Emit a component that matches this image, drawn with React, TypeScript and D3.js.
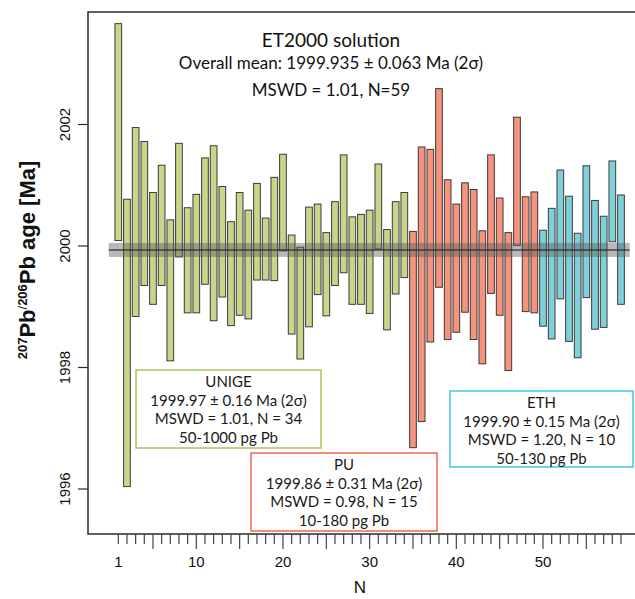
import React from "react";
import * as d3 from "d3";

// 2-sigma error bars (lower / upper ends, Ma) for each analysis N = 1..59
const lower = [
  2000.09, 1996.04, 1998.84, 1999.35, 1999.04, 1999.35, 1998.11, 1999.82, 1998.9, 1998.9,
  1999.37, 1998.77, 1999.16, 1998.69, 1998.86, 1998.8, 1999.44, 1999.44, 1999.43, 1999.92,
  1998.55, 1998.14, 1998.67, 1999.2, 1998.85, 1999.35, 1999.56, 1999.04, 1999.04, 1998.89,
  1999.95, 1998.62, 1999.21, 1999.48,
  1996.68, 1997.11, 1998.42, 1999.32, 1998.46, 1998.58, 1998.91, 1998.46, 1998.06, 1999.22,
  1998.86, 1997.95, 2000.01, 1998.92, 1998.9,
  1998.68, 1998.47, 1999.13, 1998.43, 1998.16, 1999.15, 1998.63, 1998.66, 2000.07, 1999.04,
];
const upper = [
  2003.66, 2000.77, 2001.95, 2001.72, 2000.88, 2001.33, 2000.43, 2001.69, 2000.63, 2000.85,
  2001.45, 2001.65, 2000.98, 2000.4, 2000.88, 2000.59, 2001.03, 2000.46, 2001.13, 2001.51,
  2000.18, 1999.98, 2000.64, 2000.69, 2000.22, 2000.73, 2001.5, 2000.48, 2000.52, 2000.59,
  2001.35, 2000.27, 2000.73, 2000.88,
  2000.24, 2001.63, 2001.59, 2002.59, 2001.09, 2000.69, 2001.04, 2000.93, 2000.25, 2001.5,
  2000.79, 2000.22, 2002.12, 2000.81, 2000.89,
  2000.26, 2000.62, 2001.25, 2000.82, 2000.21, 2001.32, 2000.75, 2000.49, 2001.4, 2000.84,
];

// labs, in order along N
const labs = ["UNIGE", "PU", "ETH"];
const labSizes = [34, 15, 10];
const labFill = ["#c9d58b", "#f5937c", "#80d0da"];
const labStroke = ["#a9c45c", "#ee6a51", "#3cc5ee"];
const labLines = [
  ["UNIGE", "1999.97 ± 0.16 Ma (2σ)", "MSWD = 1.01, N = 34", "50-1000 pg Pb"],
  ["PU", "1999.86 ± 0.31 Ma (2σ)", "MSWD = 0.98, N = 15", "10-180 pg Pb"],
  ["ETH", "1999.90 ± 0.15 Ma (2σ)", "MSWD = 1.20, N = 10", "50-130 pg Pb"],
];

const overallMean = 1999.935;
const bandHalf = 0.115;
const yTicks = [1996, 1998, 2000, 2002];
const xLabels = [1, 10, 20, 30, 40, 50];
const titleLines = ["ET2000 solution", "Overall mean: 1999.935 ± 0.063 Ma (2σ)", "MSWD = 1.01, N=59"];

const W = 635;
const H = 599;
const frame = { left: 88, top: 12, bottom: 534, right: 635 };

// annotation boxes [x0, y0, x1, y1]
const boxes = [
  [136, 370, 321, 448],
  [251, 453, 437, 531],
  [450, 391, 633, 467],
];

const sans = "'Lato', 'Open Sans', sans-serif";
const arial = "'Liberation Sans', Arial, sans-serif";

export default function App() {
  const x = d3.scaleLinear().domain([1, 59]).range([118.3, 621]);
  const y = d3.scaleLinear().domain([1996, 2002]).range([489, 124.5]);
  const bw = 6.7;

  const labOf: number[] = [];
  labSizes.forEach((n, g) => {
    for (let i = 0; i < n; i++) labOf.push(g);
  });
  const ns = d3.range(1, lower.length + 1);

  return (
    <svg
      width={W}
      height={H}
      style={{ position: "absolute", left: 0, top: 0, background: "#fff" }}
    >
      {/* bars */}
      {ns.map((n, i) => (
        <rect
          key={n}
          x={x(n) - bw / 2}
          y={y(upper[i])}
          width={bw}
          height={y(lower[i]) - y(upper[i])}
          fill={labFill[labOf[i]]}
          stroke="#3a3a3a"
          strokeWidth={1}
        />
      ))}

      {/* overall mean band */}
      <rect
        x={x(-0.1)}
        y={y(overallMean + bandHalf)}
        width={x(60) - x(-0.1)}
        height={y(overallMean - bandHalf) - y(overallMean + bandHalf)}
        fill="#555"
        opacity={0.42}
      />
      <line
        x1={x(-0.1)}
        x2={x(60)}
        y1={y(overallMean)}
        y2={y(overallMean)}
        stroke="#222"
        strokeWidth={1.5}
        opacity={0.75}
      />

      {/* frame */}
      <path
        d={`M${frame.right},${frame.top}H${frame.left}V${frame.bottom}H${frame.right}`}
        fill="none"
        stroke="#2b2b2b"
        strokeWidth={1.5}
      />

      {/* y axis */}
      {yTicks.map((t) => (
        <g key={t}>
          <line x1={frame.left - 10} x2={frame.left} y1={y(t)} y2={y(t)} stroke="#2b2b2b" strokeWidth={1.2} />
          <text
            transform={`translate(70,${y(t)}) rotate(-90)`}
            textAnchor="middle"
            fontFamily={arial}
            fontSize={15}
            fill="#111"
          >
            {t}
          </text>
        </g>
      ))}
      <text
        transform={`translate(35,${260}) rotate(-90)`}
        textAnchor="middle"
        fontFamily={arial}
        fontWeight="bold"
        fontSize={22}
        fill="#111"
      >
        <tspan fontSize={13} dy={-8}>207</tspan>
        <tspan dy={8}>Pb</tspan>
        <tspan fontSize={13} fontWeight="normal" dy={-8}>/</tspan>
        <tspan fontSize={13} dy={0}>206</tspan>
        <tspan dy={8}>Pb age [Ma]</tspan>
      </text>

      {/* x axis */}
      {ns.map((n) => (
        <line
          key={n}
          x1={x(n)}
          x2={x(n)}
          y1={frame.bottom}
          y2={frame.bottom + (n % 5 === 0 ? 15 : 10)}
          stroke="#444"
          strokeWidth={1.2}
        />
      ))}
      {xLabels.map((t) => (
        <text key={t} x={x(t)} y={567} textAnchor="middle" fontFamily={arial} fontSize={15} fill="#111">
          {t}
        </text>
      ))}
      <text x={360} y={593} textAnchor="middle" fontFamily={arial} fontSize={17} fill="#111">
        N
      </text>

      {/* title */}
      <text x={331} y={47} textAnchor="middle" fontFamily={sans} fontSize={19} fill="#111">
        {titleLines[0]}
      </text>
      <text x={331} y={69} textAnchor="middle" fontFamily={sans} fontSize={17} fill="#111">
        {titleLines[1]}
      </text>
      <text x={331} y={96} textAnchor="middle" fontFamily={sans} fontSize={17} fill="#111">
        {titleLines[2]}
      </text>

      {/* lab boxes */}
      {labs.map((lab, g) => {
        const [x0, y0, x1, y1] = boxes[g];
        return (
          <g key={lab}>
            <rect x={x0} y={y0} width={x1 - x0} height={y1 - y0} fill="#fff" stroke={labStroke[g]} strokeWidth={1.5} />
            {labLines[g].map((s, k) => (
              <text
                key={k}
                x={(x0 + x1) / 2}
                y={y0 + 17 + k * 18.7}
                textAnchor="middle"
                fontFamily={sans}
                fontSize={15}
                fill="#1a1a1a"
              >
                {s}
              </text>
            ))}
          </g>
        );
      })}
    </svg>
  );
}
